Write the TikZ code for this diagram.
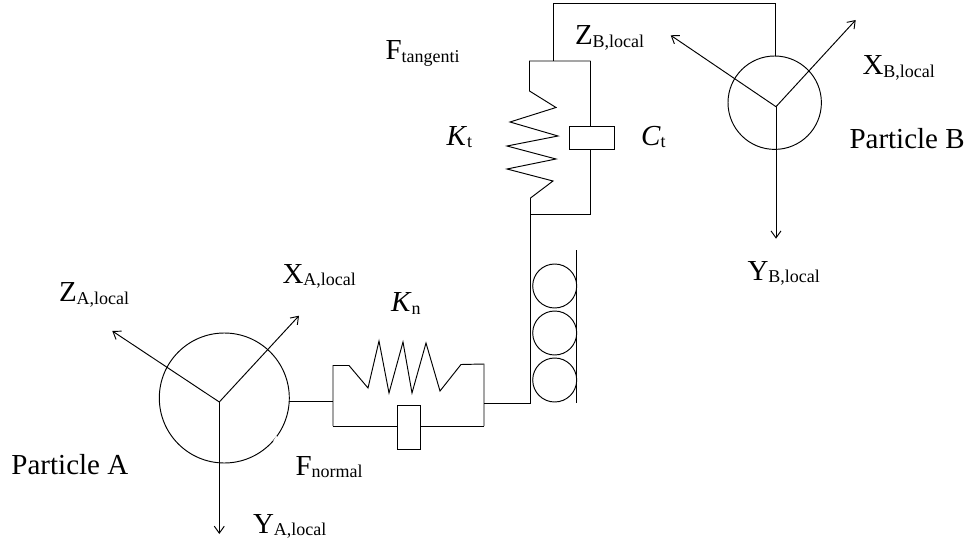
\documentclass[tikz,border=0pt]{standalone}
\usepackage{fontspec}
\setmainfont{Liberation Serif}
\usetikzlibrary{arrows.meta}
\tikzset{
 x=1pt,y=-1pt,
 line/.style={draw=black,line width=0.95pt,line join=miter},
 axis/.style={line,-{Straight Barb[length=7pt,width=10pt,line width=0.95pt]}},
 ball/.style={circle,draw=black,line width=0.95pt,inner sep=0pt,minimum size=#1,outer sep=0pt},
 box/.style={rectangle,draw=black,fill=white,line width=0.95pt,inner sep=0pt,outer sep=0pt},
 lab/.style={inner sep=0pt,outer sep=0pt,anchor=base west,font=\fontsize{29}{29}\selectfont},
}
\newcommand{\lb}[2]{#1{\raisebox{-2.5pt}{\fontsize{18}{18}\selectfont #2}}}
\begin{document}
\begin{tikzpicture}
\useasboundingbox (0,0) rectangle (967,543);
% particle A
\node[ball=130pt] (pa) at (224.3,398) {};
\coordinate (oa) at (219.3,402);
\coordinate (za) at (112.3,331);
\coordinate (xa) at (299,315.7);
\coordinate (ya) at (219.3,534);
\draw[axis] (oa) -- (za);
\draw[axis] (oa) -- (xa);
\draw[axis] (oa) -- (ya);
\coordinate (ga) at (273.8,441.5);
\coordinate (gb) at (276.8,436.5);
\draw[white,line width=1.4pt] (ga) -- (gb);
% particle B
\node[ball=93.4pt] (pb) at (774.7,102.7) {};
\coordinate (ob) at (776,106.7);
\coordinate (zb) at (670.7,35.3);
\coordinate (xb) at (855.7,20);
\coordinate (yb) at (776,238.7);
\draw[axis] (ob) -- (zb);
\draw[axis] (ob) -- (xb);
\draw[axis] (ob) -- (yb);
% normal unit
\coordinate (nl) at (333,401);
\coordinate (nlt) at (333,365.5);
\coordinate (nlb) at (333,426);
\coordinate (nr) at (484,403);
\coordinate (nrt) at (484,364);
\coordinate (nrb) at (484,426);
\draw[line] (pa.east |- nl) -- (nl);
\draw[line] (nlb) -- (nlt) -- (349,365.5) -- (368,388) -- (379,341) -- (389,393) -- (403,342) -- (412,393) -- (426,343) -- (440,391) -- (461,364.5) -- (nrt) -- (nrb);
\node[box,minimum width=23pt,minimum height=44.5pt] (dn) at (408.5,427.25) {};
\draw[line] (nlb) -- (dn.west |- nlb);
\draw[line] (dn.east |- nrb) -- (nrb);
% rollers
\coordinate (cv) at (530.5,403);
\coordinate (ct) at (530.5,198);
\draw[line] (nr) -- (cv) -- (ct);
\node[ball=44pt] (r1) at (554.7,286) {};
\node[ball=44pt] (r2) at (554.7,333) {};
\node[ball=44pt] (r3) at (554.7,380) {};
\coordinate (wt) at (576.5,250);
\coordinate (wb) at (576.5,403);
\draw[line] (wt) -- (wb);
% tangential unit
\coordinate (tl) at (529.5,61);
\coordinate (tr) at (590.5,61);
\coordinate (tm) at (553.5,61);
\coordinate (bl) at (530.5,214.5);
\coordinate (br) at (590.5,214.5);
\draw[line] (tr) -- (tl) -- (529.5,91) -- (556,107.5) -- (510,122) -- (558,136) -- (507,146) -- (556,159) -- (507,169) -- (553,181) -- (ct);
\draw[line] (bl) -- (br) -- (tr);
\node[box,minimum width=44.5pt,minimum height=23.5pt] (dt) at (591.75,137.75) {};
% link to B
\coordinate (ttl) at (553.5,3);
\coordinate (ttr) at (775,3);
\draw[line] (tm) -- (ttl) -- (ttr) -- (pb.north -| ttr);
% labels
\node[lab] (tz) at (575,45) {\lb{Z}{B,local}};
\node[lab] (tx) at (862.5,75) {\lb{X}{B,local}};
\node[lab] (tyb) at (747.5,280) {\lb{Y}{B,local}};
\node[lab] (tf) at (385.5,60) {\lb{F}{tangenti}};
\node[lab] (tk) at (446.5,145) {\lb{\textit{K}}{t}};
\node[lab] (tc) at (641,145) {\lb{\textit{C}}{t}};
\node[lab] (tpb) at (849.5,148.5) {Particle B};
\node[lab] (tza) at (59,301.5) {\lb{Z}{A,local}};
\node[lab] (txa) at (282.5,283) {\lb{X}{A,local}};
\node[lab] (tkn) at (391,311.5) {\lb{\textit{K}}{n}};
\node[lab] (tpa) at (11.5,474) {Particle A};
\node[lab] (tfn) at (295.5,475) {\lb{F}{normal}};
\node[lab] (tya) at (253,533) {\lb{Y}{A,local}};
\end{tikzpicture}
\end{document}
